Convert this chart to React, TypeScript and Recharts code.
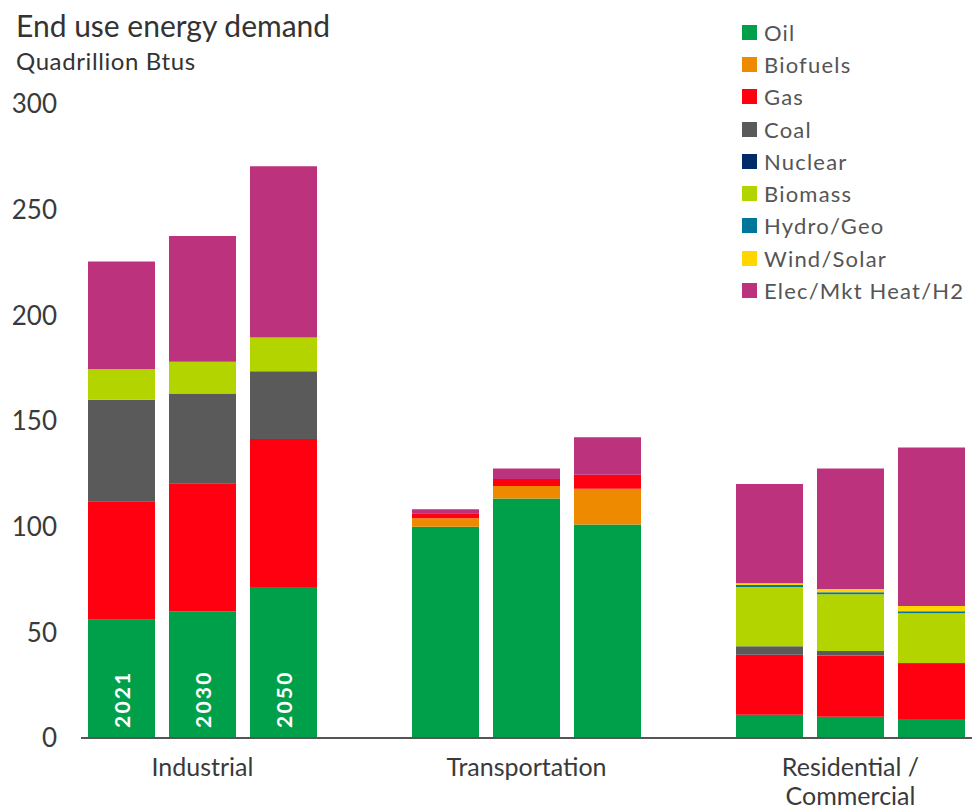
import { Bar, BarChart, Legend, LabelList, XAxis, YAxis } from "recharts";

const sectors = ["Industrial", "Transportation", "Residential / Commercial"];
const years = ["2021", "2030", "2050"];

// values per bar: Industrial 2021/2030/2050, Transportation ..., Residential ...
const oil = [56, 60, 71.5, 100, 113.3, 101, 11, 10, 9];
const biofuels = [0, 0, 0, 4, 6, 17, 0, 0, 0];
const gas = [56, 60.5, 70, 2.3, 3.2, 6.6, 28.4, 29, 26];
const coal = [48, 42.5, 32, 0, 0, 0, 4, 2.2, 0.5];
const nuclear = [0, 0, 0, 0, 0, 0, 0, 0, 0];
const biomass = [14.5, 15, 16, 0, 0, 0, 28, 26.8, 23.5];
const hydroGeo = [0, 0, 0, 0, 0, 0, 1, 1, 1];
const windSolar = [0, 0, 0, 0, 0, 0, 0.8, 1.5, 2.5];
const elecHeatH2 = [51, 59.5, 81, 2, 5, 17.7, 47, 57, 75];

const yTicks = [0, 50, 100, 150, 200, 250, 300];

const fuels = [
  { key: "oil", name: "Oil", color: "#00A04B", values: oil },
  { key: "biofuels", name: "Biofuels", color: "#EE8A00", values: biofuels },
  { key: "gas", name: "Gas", color: "#FE0010", values: gas },
  { key: "coal", name: "Coal", color: "#5A5A5A", values: coal },
  { key: "nuclear", name: "Nuclear", color: "#002A68", values: nuclear },
  { key: "biomass", name: "Biomass", color: "#B4D400", values: biomass },
  { key: "hydroGeo", name: "Hydro/Geo", color: "#00779A", values: hydroGeo },
  { key: "windSolar", name: "Wind/Solar", color: "#FFD600", values: windSolar },
  { key: "elecHeatH2", name: "Elec/Mkt Heat/H2", color: "#BC327D", values: elecHeatH2 },
];

const FONT = "Lato, 'Noto Sans', sans-serif";

// one row per bar, with an empty slot between sectors
const rows: Record<string, string | number | undefined>[] = [];
const tickText: Record<string, string[]> = {};
sectors.forEach((sector, s) => {
  years.forEach((year, y) => {
    const i = s * years.length + y;
    const slot = `${sector} ${year}`;
    const row: Record<string, string | number | undefined> = {
      slot,
      yearLabel: s === 0 ? year : undefined,
    };
    fuels.forEach((f) => {
      row[f.key] = f.values[i];
    });
    rows.push(row);
    if (y === 1) {
      const parts = sector.split(" / ");
      tickText[slot] = parts.length > 1 ? [parts[0] + " /", parts[1]] : [sector];
    }
  });
  if (s < sectors.length - 1) rows.push({ slot: `gap-${s}` });
});

function SectorTick(props: any) {
  const { x, y, payload } = props;
  const lines = tickText[payload.value];
  if (!lines) return null;
  return (
    <text x={x} textAnchor="middle" fill="#3a3a3a" fontSize={25} fontFamily={FONT}>
      {lines.map((line, i) => (
        <tspan key={line} x={x} y={y + 38 + i * 29}>
          {line}
        </tspan>
      ))}
    </text>
  );
}

function YearLabel(props: any) {
  const { x, y, width, height, value } = props;
  if (!value) return null;
  const cx = x + width / 2;
  const by = y + height - 10;
  return (
    <text
      x={cx}
      y={by}
      transform={`rotate(-90 ${cx} ${by})`}
      textAnchor="start"
      dominantBaseline="central"
      fill="#ffffff"
      fontSize={21}
      fontWeight={700}
      fontFamily={FONT}
      letterSpacing={2.2}
    >
      {value}
    </text>
  );
}

function FuelLegend() {
  return (
    <div style={{ fontFamily: FONT }}>
      {fuels.map((f) => (
        <div
          key={f.key}
          style={{ display: "flex", alignItems: "center", height: 32.3 }}
        >
          <span
            style={{
              width: 15,
              height: 15,
              background: f.color,
              marginRight: 7,
              display: "inline-block",
            }}
          />
          <span style={{ fontSize: 22, color: "#555", letterSpacing: 1.2 }}>
            {f.name}
          </span>
        </div>
      ))}
    </div>
  );
}

export default function App() {
  return (
    <div style={{ position: "absolute", left: 0, top: 0, width: 974, height: 809, background: "#fff" }}>
      <div
        style={{
          position: "absolute",
          left: 16,
          top: 7,
          fontFamily: FONT,
          color: "#333",
          zIndex: 2,
        }}
      >
        <div style={{ fontSize: 30, lineHeight: "36px" }}>End use energy demand</div>
        <div style={{ fontSize: 24, lineHeight: "28px", marginTop: 4, letterSpacing: 0.6 }}>
          Quadrillion Btus
        </div>
      </div>
      <BarChart
        width={974}
        height={809}
        data={rows}
        margin={{ top: 104, right: 2, bottom: 11, left: 21 }}
        barSize={67}
      >
        <XAxis
          dataKey="slot"
          interval={0}
          tickLine={false}
          tickSize={0}
          tickMargin={0}
          height={60}
          axisLine={{ stroke: "#555", strokeWidth: 2 }}
          tick={<SectorTick />}
        />
        <YAxis
          width={60}
          domain={[0, 300]}
          ticks={yTicks}
          axisLine={false}
          tickLine={false}
          tickSize={0}
          tickMargin={24}
          tick={{ fill: "#3a3a3a", fontSize: 26, fontFamily: FONT }}
        />
        <Legend
          layout="vertical"
          align="center"
          verticalAlign="middle"
          content={<FuelLegend />}
          wrapperStyle={{ left: 742, top: 16, width: 232 }}
        />
        {fuels.map((f) => (
          <Bar
            key={f.key}
            dataKey={f.key}
            name={f.name}
            stackId="energy"
            fill={f.color}
            isAnimationActive={false}
          >
            {f.key === "oil" && (
              <LabelList dataKey="yearLabel" content={<YearLabel />} />
            )}
          </Bar>
        ))}
      </BarChart>
    </div>
  );
}
